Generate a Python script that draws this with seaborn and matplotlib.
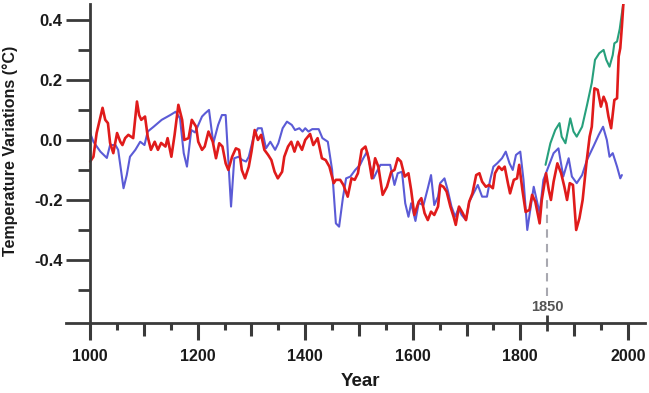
import matplotlib
matplotlib.use("Agg")
import matplotlib.pyplot as plt
import seaborn as sns
import pandas as pd

# red reconstruction
red_years = [1000, 1006, 1012, 1023, 1028, 1033, 1037, 1043, 1050, 1056, 1060, 1065, 1071, 1076,
             1080, 1087, 1091, 1095, 1102, 1107, 1113, 1120, 1126, 1132, 1140, 1144, 1151, 1157,
             1164, 1171, 1175, 1183, 1189, 1197, 1201, 1208, 1213, 1220, 1228, 1234, 1240, 1246,
             1252, 1257, 1264, 1271, 1277, 1282, 1288, 1295, 1300, 1306, 1312, 1318, 1324, 1331,
             1337, 1343, 1349, 1357, 1361, 1368, 1374, 1380, 1386, 1394, 1400, 1409, 1415, 1423,
             1431, 1438, 1445, 1453, 1457, 1465, 1471, 1479, 1486, 1492, 1498, 1505, 1512, 1518,
             1524, 1530, 1536, 1544, 1552, 1560, 1566, 1572, 1578, 1585, 1592, 1597, 1603, 1611,
             1616, 1622, 1628, 1634, 1640, 1647, 1651, 1657, 1663, 1670, 1676, 1680, 1686, 1693,
             1699, 1705, 1711, 1718, 1724, 1729, 1736, 1742, 1749, 1753, 1760, 1766, 1771, 1777,
             1781, 1788, 1794, 1798, 1804, 1810, 1817, 1822, 1828, 1836, 1840, 1848, 1853, 1857,
             1862, 1869, 1876, 1882, 1887, 1892, 1898, 1904, 1910, 1916, 1923, 1929, 1933, 1938,
             1944, 1950, 1955, 1960, 1964, 1969, 1975, 1980, 1983, 1986, 1989, 1992]
red_vals = [-0.072, -0.056, 0.023, 0.107, 0.067, 0.056, -0.010, -0.044, 0.023, -0.006, -0.017, 0.006, 0.017, 0.011,
            0.006, 0.128, 0.083, 0.067, 0.078, 0.011, -0.033, -0.006, -0.033, -0.010, -0.022, 0.006, -0.056, 0.017,
            0.117, 0.067, 0.000, 0.006, 0.067, 0.044, -0.006, -0.033, -0.022, 0.028, -0.006, -0.061, -0.011, -0.022,
            -0.078, -0.100, -0.056, -0.028, -0.033, -0.100, -0.128, -0.089, -0.039, 0.033, 0.000, 0.017, -0.033, -0.050,
            -0.067, -0.106, -0.128, -0.106, -0.056, -0.022, -0.006, -0.039, -0.006, -0.033, 0.000, 0.020, -0.017, 0.006,
            -0.061, -0.067, -0.089, -0.144, -0.133, -0.133, -0.150, -0.189, -0.128, -0.133, -0.111, -0.033, -0.022, -0.061,
            -0.128, -0.061, -0.089, -0.183, -0.156, -0.106, -0.100, -0.061, -0.072, -0.122, -0.111, -0.167, -0.250, -0.206,
            -0.194, -0.244, -0.267, -0.239, -0.250, -0.222, -0.150, -0.156, -0.172, -0.222, -0.256, -0.283, -0.222, -0.244,
            -0.267, -0.206, -0.178, -0.117, -0.111, -0.139, -0.156, -0.150, -0.161, -0.111, -0.089, -0.100, -0.089, -0.144,
            -0.178, -0.133, -0.128, -0.083, -0.167, -0.240, -0.233, -0.183, -0.206, -0.278, -0.200, -0.111, -0.167, -0.200,
            -0.139, -0.078, -0.111, -0.156, -0.200, -0.144, -0.150, -0.300, -0.261, -0.200, -0.078, 0.011, 0.044, 0.172,
            0.167, 0.111, 0.144, 0.122, 0.078, 0.039, 0.133, 0.139, 0.278, 0.306, 0.378, 0.460]

# blue reconstruction
blue_years = [1000, 1006, 1019, 1031, 1037, 1047, 1052, 1062, 1068, 1074, 1084, 1093, 1101, 1107,
              1118, 1133, 1149, 1159, 1167, 1174, 1180, 1188, 1195, 1208, 1214, 1221, 1229, 1238,
              1245, 1252, 1257, 1262, 1268, 1276, 1283, 1290, 1295, 1304, 1312, 1319, 1327, 1335,
              1344, 1350, 1358, 1366, 1375, 1381, 1389, 1395, 1400, 1406, 1413, 1425, 1432, 1442,
              1450, 1457, 1463, 1470, 1476, 1484, 1493, 1502, 1508, 1515, 1521, 1527, 1533, 1540,
              1558, 1566, 1572, 1580, 1586, 1592, 1597, 1605, 1611, 1620, 1628, 1634, 1640, 1647,
              1651, 1659, 1665, 1672, 1679, 1685, 1691, 1699, 1705, 1713, 1721, 1729, 1738, 1744,
              1750, 1757, 1766, 1773, 1780, 1786, 1792, 1800, 1806, 1813, 1825, 1836, 1843, 1850,
              1862, 1871, 1880, 1890, 1896, 1905, 1915, 1924, 1936, 1946, 1954, 1961, 1966, 1972,
              1980, 1986, 1989]
blue_vals = [0.022, -0.006, -0.039, -0.060, -0.017, -0.017, -0.033, -0.161, -0.117, -0.056, -0.033, -0.006, -0.017, 0.028,
             0.044, 0.067, 0.083, 0.094, 0.072, -0.044, -0.089, 0.033, 0.025, 0.078, 0.089, 0.100, -0.011, 0.050,
             0.083, 0.083, -0.067, -0.222, -0.061, -0.056, -0.067, -0.072, -0.056, 0.011, 0.039, 0.039, -0.028, -0.006,
             -0.033, -0.011, 0.039, 0.061, 0.050, 0.033, 0.039, 0.028, 0.039, 0.028, 0.036, 0.036, 0.006, -0.006,
             -0.100, -0.278, -0.289, -0.194, -0.128, -0.122, -0.100, -0.083, -0.061, -0.039, -0.089, -0.128, -0.106, -0.083,
             -0.083, -0.150, -0.111, -0.106, -0.211, -0.256, -0.211, -0.270, -0.210, -0.217, -0.161, -0.117, -0.217, -0.189,
             -0.144, -0.128, -0.167, -0.222, -0.256, -0.228, -0.250, -0.267, -0.206, -0.178, -0.150, -0.189, -0.189, -0.133,
             -0.089, -0.078, -0.061, -0.039, -0.078, -0.100, -0.050, -0.039, -0.133, -0.300, -0.156, -0.244, -0.133, -0.100,
             -0.044, -0.028, -0.122, -0.061, -0.122, -0.144, -0.117, -0.067, -0.022, 0.017, 0.044, 0.000, -0.056, -0.044,
             -0.089, -0.128, -0.117]

# green instrumental record
green_years = [1847, 1856, 1865, 1873, 1877, 1884, 1887, 1893, 1899, 1905, 1915, 1924, 1933, 1939,
               1947, 1955, 1960, 1966, 1972, 1975, 1980, 1985, 1989, 1992]
green_vals = [-0.083, -0.011, 0.033, 0.056, 0.011, -0.011, 0.017, 0.072, 0.028, 0.011, 0.044, 0.115, 0.190, 0.267,
              0.289, 0.300, 0.267, 0.244, 0.283, 0.322, 0.328, 0.370, 0.422, 0.460]

y_ticks = [-0.4, -0.2, 0.0, 0.2, 0.4]
y_labels = ["-0.4", "-0.2", "0.0", "0.2", "0.4"]
x_ticks = [1000, 1200, 1400, 1600, 1800, 2000]

AXIS = "#3a3a3a"

sns.set_style("ticks")
plt.rcParams["font.family"] = ["Liberation Sans", "DejaVu Sans"]

fig = plt.figure(figsize=(6.49, 3.93), dpi=100)
ax = fig.add_axes([66 / 649, 1 - 323 / 393, 579 / 649, 319 / 393])

red = pd.DataFrame({"year": red_years, "temp": red_vals})
blue = pd.DataFrame({"year": blue_years, "temp": blue_vals})
green = pd.DataFrame({"year": green_years, "temp": green_vals})

sns.lineplot(data=blue, x="year", y="temp", color="#5b5bd6", linewidth=1.5, ax=ax)
sns.lineplot(data=green, x="year", y="temp", color="#27a07c", linewidth=1.5, ax=ax)
sns.lineplot(data=red, x="year", y="temp", color="#e01b1b", linewidth=1.9, ax=ax)

ax.set_xlim(955, 2032)
ax.set_ylim(-0.61, 0.453)

# spines
ax.spines["top"].set_visible(False)
ax.spines["right"].set_visible(False)
ax.spines["left"].set_position(("data", 1000))
for s in ("left", "bottom"):
    ax.spines[s].set_color(AXIS)
    ax.spines[s].set_linewidth(2)

# y ticks
ax.set_yticks(y_ticks)
ax.set_yticklabels(y_labels)
ax.set_yticks([-0.5, -0.3, -0.1, 0.1, 0.3], minor=True)
ax.tick_params(axis="y", which="major", length=17, width=2, color=AXIS, pad=3,
               labelsize=12, labelcolor="#1a1a1a")
ax.tick_params(axis="y", which="minor", length=9, width=2, color=AXIS)

# x ticks
ax.set_xticks(x_ticks)
ax.set_xticks([1100, 1300, 1500, 1700, 1900], minor=True)
ax.tick_params(axis="x", which="major", length=12, width=2.2, color=AXIS, pad=7,
               labelsize=11.5, labelcolor="#1a1a1a")
ax.tick_params(axis="x", which="minor", length=9, width=2.2, color=AXIS)
for lab in ax.get_xticklabels() + ax.get_yticklabels():
    lab.set_fontweight("bold")

sec = ax.secondary_xaxis("bottom")
sec.set_xticks([1050, 1150, 1250, 1350, 1450, 1550, 1650, 1750, 1950])
sec.tick_params(length=5, width=2.2, color=AXIS, labelbottom=False)
sec.spines["bottom"].set_visible(False)

sec2 = ax.secondary_xaxis("bottom")
sec2.set_xticks([1850])
sec2.tick_params(direction="inout", length=11, width=2, color=AXIS, labelbottom=False)
sec2.spines["bottom"].set_visible(False)

# 1850 marker
ax.vlines(1850, -0.52, -0.19, colors="#a8a8b0", linestyles=(0, (4, 3)), linewidth=1.5)
ax.text(1850, -0.557, "1850", ha="center", va="center", fontsize=10.5,
        fontweight="bold", color="#555555")

ax.set_xlabel("Year", fontsize=13.5, fontweight="bold", color="#1a1a1a")
ax.xaxis.set_label_coords((360 - 66) / 579, (323 - 382) / 319)
ax.xaxis.label.set_va("center")
ax.set_ylabel("Temperature Variations (°C)", fontsize=11.5, fontweight="bold", color="#1a1a1a")
ax.yaxis.set_label_coords((10 - 66) / 579, (323 - 151) / 319)
ax.yaxis.label.set_va("center")

fig.savefig("out.png", dpi=100)
